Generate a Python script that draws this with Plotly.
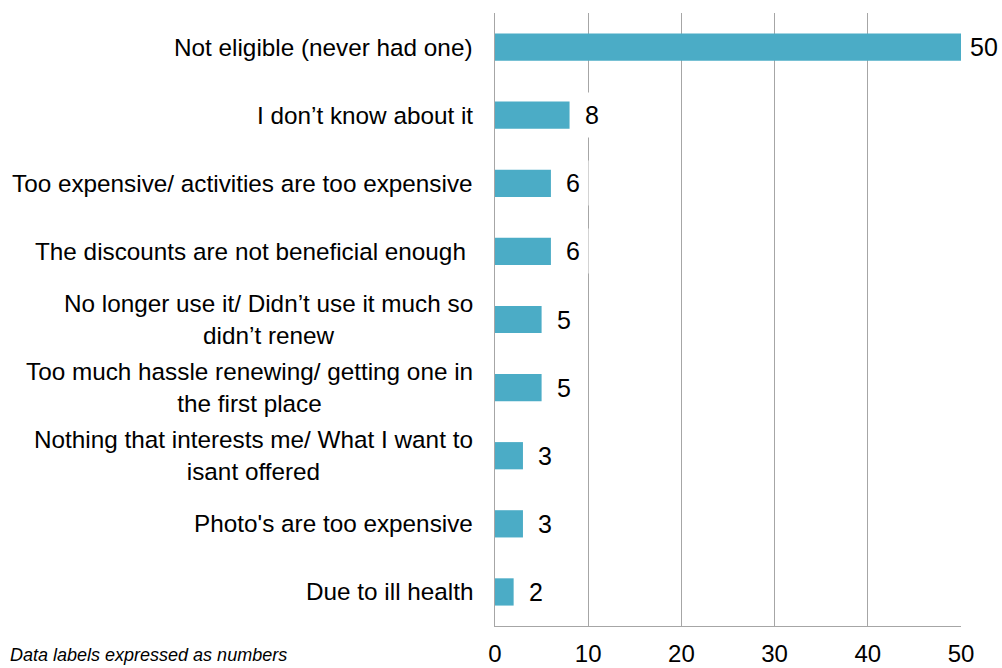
import plotly.graph_objects as go

categories = [
    "Not eligible (never had one)",
    "I don’t know about it",
    "Too expensive/ activities are too expensive",
    "The discounts are not beneficial enough ",
    "No longer use it/ Didn’t use it much so<br>didn’t renew",
    "Too much hassle renewing/ getting one in<br>the first place",
    "Nothing that interests me/ What I want to<br>isant offered",
    "Photo's are too expensive",
    "Due to ill health",
]
values = [50, 8, 6, 6, 5, 5, 3, 3, 2]
tick_vals = [0, 10, 20, 30, 40, 50]
note_text = "Data labels expressed as numbers"

ids = list(range(len(categories)))

W, H = 1002, 668
ML, MR, MT, MB = 495, 41, 13, 42
plot_w = W - ML - MR
plot_h = H - MT - MB

fig = go.Figure()
fig.add_trace(go.Bar(
    x=values, y=ids, orientation="h", width=0.4,
    marker=dict(color="#4BACC6", line=dict(width=0)),
    hoverinfo="skip",
))

FONT = "Liberation Sans, Arial, sans-serif"
annotations = []
for i, (c, v) in enumerate(zip(categories, values)):
    annotations.append(dict(
        x=0, y=i, xref="x", yref="y", text=c, showarrow=False,
        xanchor="right", yanchor="middle", align="center", xshift=-20,
        font=dict(family=FONT, size=24.3, color="#000000"),
    ))
    annotations.append(dict(
        x=v, y=i, xref="x", yref="y", text=str(v), showarrow=False,
        xanchor="left", yanchor="middle", xshift=0 if v == max(values) else 6,
        bgcolor="#FFFFFF", borderpad=8,
        font=dict(family=FONT, size=25, color="#000000"),
    ))
annotations.append(dict(
    x=-(ML - 8) / plot_w, y=-(655 - (H - MB)) / plot_h, xref="paper", yref="paper",
    text="<i>" + note_text + "</i>",
    showarrow=False, xanchor="left", yanchor="middle",
    font=dict(family=FONT, size=18, color="#000000"),
))

fig.update_layout(
    width=W, height=H,
    margin=dict(l=ML, r=MR, t=MT, b=MB, pad=0, autoexpand=False),
    paper_bgcolor="#FFFFFF", plot_bgcolor="#FFFFFF",
    showlegend=False,
    annotations=annotations,
    xaxis=dict(
        range=[0, 50], tickvals=tick_vals, showgrid=True,
        gridcolor="#A6A6A6", gridwidth=1, zeroline=False,
        showline=True, linecolor="#A6A6A6", linewidth=1, mirror=False,
        tickfont=dict(family=FONT, size=24, color="#000000"),
        ticklabelstandoff=6, automargin=False, fixedrange=True,
    ),
    yaxis=dict(
        range=[len(categories) - 0.5, -0.5], showticklabels=False,
        showgrid=False, zeroline=False, showline=True,
        linecolor="#A6A6A6", linewidth=1, automargin=False, fixedrange=True,
    ),
)

fig.write_html(
    "out.html",
    config={"displayModeBar": False, "staticPlot": True},
    post_script="document.body.style.margin='0';document.body.style.overflow='hidden';",
)
